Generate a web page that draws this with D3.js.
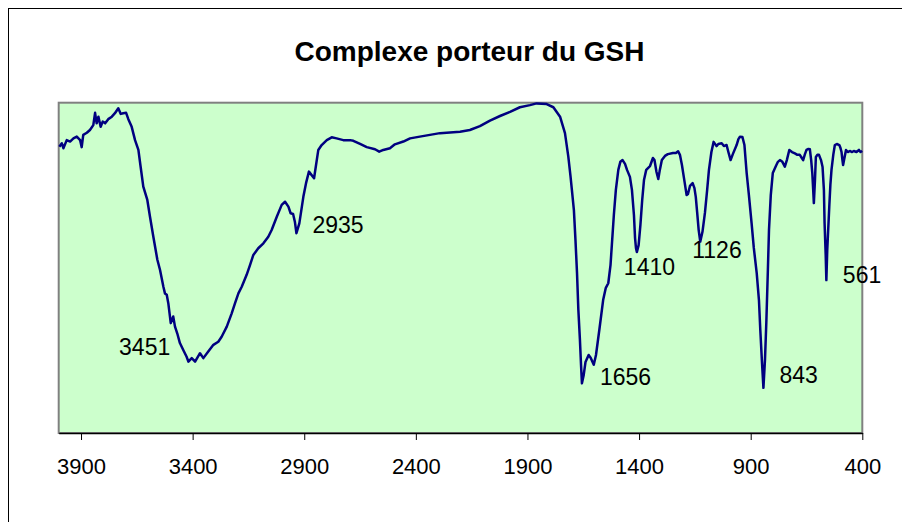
<!DOCTYPE html>
<html>
<head>
<meta charset="utf-8">
<script src="https://cdn.jsdelivr.net/npm/d3@7/dist/d3.min.js"></script>
<style>
  html, body { margin: 0; padding: 0; background: #ffffff; }
  svg { display: block; }
  text { font-family: Arial, "Liberation Sans", sans-serif; }
</style>
</head>
<body>
<svg id="chart" width="902" height="522"></svg>
<script>
// IR spectrum: wavenumber (cm-1) and transmittance (%)
const wavenumbers = [
  3997,3986,3979,3964,3949,3934,3919,3904,3897,3890,3874,3860,3845,3837,3830,3822,3812,3803,3792,3778,
  3762,3748,3733,3722,3711,3698,3688,3673,3658,3643,3633,3621,3603,3591,3576,3558,3546,3531,3524,3516,
  3509,3498,3487,3479,3469,3457,3442,3427,3419,3404,3389,3367,3352,3330,3307,3285,3270,3247,3225,3210,
  3195,3180,3158,3143,3128,3106,3083,3061,3046,3023,3001,2986,2971,2961,2950,2942,2935,2922,2904,2892,
  2879,2856,2837,2822,2799,2777,2755,2725,2695,2680,2650,2620,2583,2564,2546,2516,2494,2456,2426,2382,
  2337,2292,2247,2202,2158,2113,2068,2023,1978,1934,1889,1859,1814,1784,1754,1732,1717,1707,1701,1692,
  1685,1678,1672,1665,1660,1656,1648,1640,1626,1617,1603,1593,1578,1561,1549,1538,1528,1522,1513,1504,
  1493,1484,1474,1463,1454,1441,1432,1423,1418,1414,1410,1402,1394,1386,1378,1368,1351,1338,1331,1322,
  1314,1307,1298,1284,1271,1248,1235,1225,1217,1208,1199,1187,1181,1172,1160,1152,1146,1140,1133,1126,
  1116,1105,1095,1087,1076,1066,1053,1045,1030,1020,1008,1000,990,980,963,955,948,937,928,918,
  908,896,886,873,863,857,850,843,836,830,823,818,810,801,787,778,769,758,747,738,
  727,715,702,691,680,671,665,657,650,641,635,629,624,620,617,612,608,601,594,585,
  578,572,569,564,561,557,548,543,538,530,523,514,503,498,493,489,486,480,473,465,
  456,446,438,426,415,408,400
];
const transmittance = [
  87.4,88.4,87.0,89.3,88.9,89.8,90.3,89.3,87.3,90.8,91.4,92.2,93.6,97.1,94.1,96.0,93.1,94.6,94.1,95.3,
  96.0,97.0,98.4,96.8,97.0,97.1,95.3,93.1,89.3,86.5,81.7,76.0,72.2,67.4,61.7,55.1,52.2,47.4,45.5,45.1,
  42.7,37.0,38.9,36.0,34.1,31.3,29.3,27.4,26.0,27.0,26.0,28.4,27.0,28.9,30.8,31.7,33.1,36.0,39.8,42.7,
  45.5,47.4,50.8,53.6,56.5,58.4,59.8,61.7,63.6,67.4,70.8,71.7,70.3,68.4,68.2,66.0,62.7,65.5,73.1,77.0,
  80.3,78.4,86.5,87.9,89.3,90.1,89.8,89.3,89.3,89.1,88.2,87.3,86.7,86.0,86.5,87.0,88.1,88.9,89.8,90.3,
  90.8,91.3,91.5,91.7,92.2,93.3,94.9,96.2,97.4,98.7,99.3,99.8,99.6,98.7,96.0,91.3,84.6,78.9,75.1,69.3,
  60.8,51.3,40.8,32.2,25.0,19.8,22.2,25.9,27.9,27.1,25.1,27.9,35.1,43.6,47.1,48.4,53.6,59.3,67.9,75.1,
  80.8,83.1,83.6,82.5,80.8,78.8,75.1,67.9,61.3,58.5,57.3,59.3,65.1,72.2,77.9,80.8,81.9,84.2,83.6,80.2,
  78.2,80.8,83.6,84.8,85.3,85.6,85.6,86.1,85.1,82.2,78.5,73.6,73.9,76.2,77.0,75.6,73.1,68.8,63.6,60.3,
  63.1,68.5,75.1,80.8,85.9,88.8,87.6,88.2,88.4,87.6,87.9,85.9,83.6,85.3,87.9,89.6,90.3,90.2,87.9,79.9,
  73.6,65.6,58.5,51.3,43.6,35.1,26.5,18.5,26.5,37.1,52.2,63.6,73.6,79.9,81.9,83.1,83.6,83.1,81.7,83.6,
  86.5,85.9,85.5,85.1,85.1,84.2,83.6,85.3,86.5,86.8,86.7,83.6,79.9,75.1,71.3,77.9,84.5,85.1,85.1,83.6,
  81.6,75.1,65.6,56.5,49.3,57.9,70.2,76.5,80.8,85.1,87.9,88.2,87.9,87.1,85.9,83.6,82.2,84.2,86.5,85.9,
  86.2,85.9,86.2,85.9,86.5,85.9,86.2
];

// Axis tick values along the wavenumber axis
const tickValues = [3900, 3400, 2900, 2400, 1900, 1400, 900, 400];
// Transmittance range covered by the plot area
const transmittanceRange = [5.6, 100];

// Annotated bands
const peakLabels = [3451, 2935, 1656, 1410, 1126, 843, 561];
const peakLevels = [30.6, 62.7, 19.8, 57.3, 60.3, 18.5, 49.3];

const title = "Complexe porteur du GSH";

// Layout
const plot = { left: 58.7, right: 862.3, top: 102.7, bottom: 433 };
// Text offsets of each band label relative to its band position
const labelOffsets = [
  { dx: -11, dy: 9.4, anchor: "end" },
  { dx: 16, dy: -0.6, anchor: "start" },
  { dx: 18, dy: 1.6, anchor: "start" },
  { dx: -13, dy: 23, anchor: "start" },
  { dx: -8, dy: 16.6, anchor: "start" },
  { dx: 16, dy: -4.7, anchor: "start" },
  { dx: 16.5, dy: 3, anchor: "start" }
];

const svg = d3.select("#chart");

const x = d3.scaleLinear().domain([4000, 400]).range([plot.left, plot.right]);
const y = d3.scaleLinear().domain(transmittanceRange).range([plot.bottom, plot.top]);

// Outer chart frame
svg.append("rect")
  .attr("x", 8.5).attr("y", 8.5)
  .attr("width", 1000).attr("height", 1000)
  .attr("fill", "#ffffff")
  .attr("stroke", "#000000")
  .attr("stroke-width", 1);

// Plot area
svg.append("rect")
  .attr("x", plot.left).attr("y", plot.top)
  .attr("width", plot.right - plot.left)
  .attr("height", plot.bottom - plot.top)
  .attr("fill", "#ccffcc")
  .attr("stroke", "#808080")
  .attr("stroke-width", 2);

// Title
svg.append("text")
  .attr("x", (plot.left + plot.right) / 2 + 9)
  .attr("y", 61)
  .attr("text-anchor", "middle")
  .attr("font-size", 28)
  .attr("font-weight", "bold")
  .attr("fill", "#000")
  .text(title);

// Bottom axis
const axis = svg.append("g")
  .attr("transform", `translate(0,${plot.bottom})`)
  .call(d3.axisBottom(x).tickValues(tickValues).tickSize(7).tickSizeOuter(0).tickFormat(d3.format("d")));
axis.select(".domain").attr("stroke", "#000").attr("stroke-width", 1.5);
axis.selectAll(".tick line").attr("stroke", "#000").attr("stroke-width", 1);
axis.selectAll(".tick text")
  .attr("y", 41).attr("dy", 0)
  .attr("font-size", 22)
  .attr("font-family", "Arial, 'Liberation Sans', sans-serif")
  .attr("fill", "#000");

// Spectrum line
const points = wavenumbers.map((w, i) => [w, transmittance[i]]);
const line = d3.line().x(d => x(d[0])).y(d => y(d[1]));
svg.append("path")
  .datum(points)
  .attr("d", line)
  .attr("fill", "none")
  .attr("stroke", "#000080")
  .attr("stroke-width", 2.5)
  .attr("stroke-linejoin", "round");

// Band labels
svg.append("g").selectAll("text")
  .data(peakLabels)
  .join("text")
  .attr("x", (d, i) => x(d) + labelOffsets[i].dx)
  .attr("y", (d, i) => y(peakLevels[i]) + labelOffsets[i].dy)
  .attr("text-anchor", (d, i) => labelOffsets[i].anchor)
  .attr("font-size", 23)
  .attr("fill", "#000")
  .text(d => d);
</script>
</body>
</html>
